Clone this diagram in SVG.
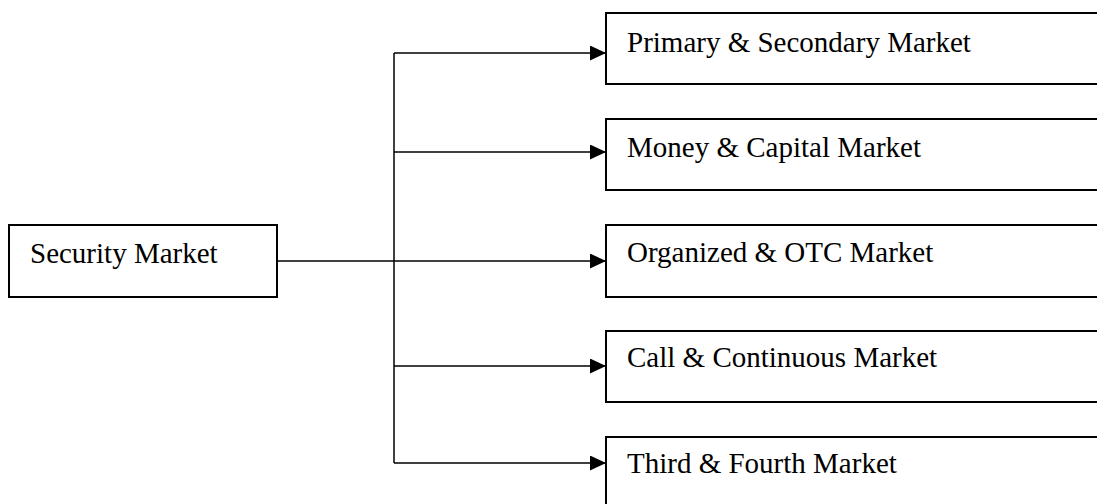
<svg xmlns="http://www.w3.org/2000/svg" width="1097" height="504" viewBox="0 0 1097 504">
<style>
.box{fill:#fff;stroke:#000;stroke-width:2}
.lbl{font-family:"Liberation Serif","Times New Roman",serif;font-size:29px;fill:#000}
.ln{fill:none;stroke:#000;stroke-width:1.5}
</style>
<defs>
<marker id="arr" markerUnits="userSpaceOnUse" markerWidth="17" markerHeight="15" refX="16" refY="7.5" orient="auto">
<path d="M0,0 L16,7.5 L0,15 Z" fill="#000"/>
</marker>
</defs>
<rect width="1097" height="504" fill="#fff"/>
<g id="security-market">
<rect class="box" x="9" y="225" width="268" height="72"/>
<text class="lbl" x="30" y="263">Security Market</text>
</g>
<g id="primary-secondary">
<rect class="box" x="606" y="13" width="600" height="71"/>
<text class="lbl" x="627" y="52">Primary &amp; Secondary Market</text>
</g>
<g id="money-capital">
<rect class="box" x="606" y="119" width="600" height="71"/>
<text class="lbl" x="627" y="157">Money &amp; Capital Market</text>
</g>
<g id="organized-otc">
<rect class="box" x="606" y="225" width="600" height="72"/>
<text class="lbl" x="627" y="262">Organized &amp; OTC Market</text>
</g>
<g id="call-continuous">
<rect class="box" x="606" y="331" width="600" height="71"/>
<text class="lbl" x="627" y="367">Call &amp; Continuous Market</text>
</g>
<g id="third-fourth">
<rect class="box" x="606" y="437" width="600" height="80"/>
<text class="lbl" x="627" y="473">Third &amp; Fourth Market</text>
</g>
<g id="connectors">
<line class="ln" x1="394" y1="53" x2="394" y2="463"/>
<line class="ln" x1="277" y1="261" x2="606" y2="261" marker-end="url(#arr)"/>
<line class="ln" x1="394" y1="53" x2="606" y2="53" marker-end="url(#arr)"/>
<line class="ln" x1="394" y1="152" x2="606" y2="152" marker-end="url(#arr)"/>
<line class="ln" x1="394" y1="366" x2="606" y2="366" marker-end="url(#arr)"/>
<line class="ln" x1="394" y1="463" x2="606" y2="463" marker-end="url(#arr)"/>
</g>
</svg>
